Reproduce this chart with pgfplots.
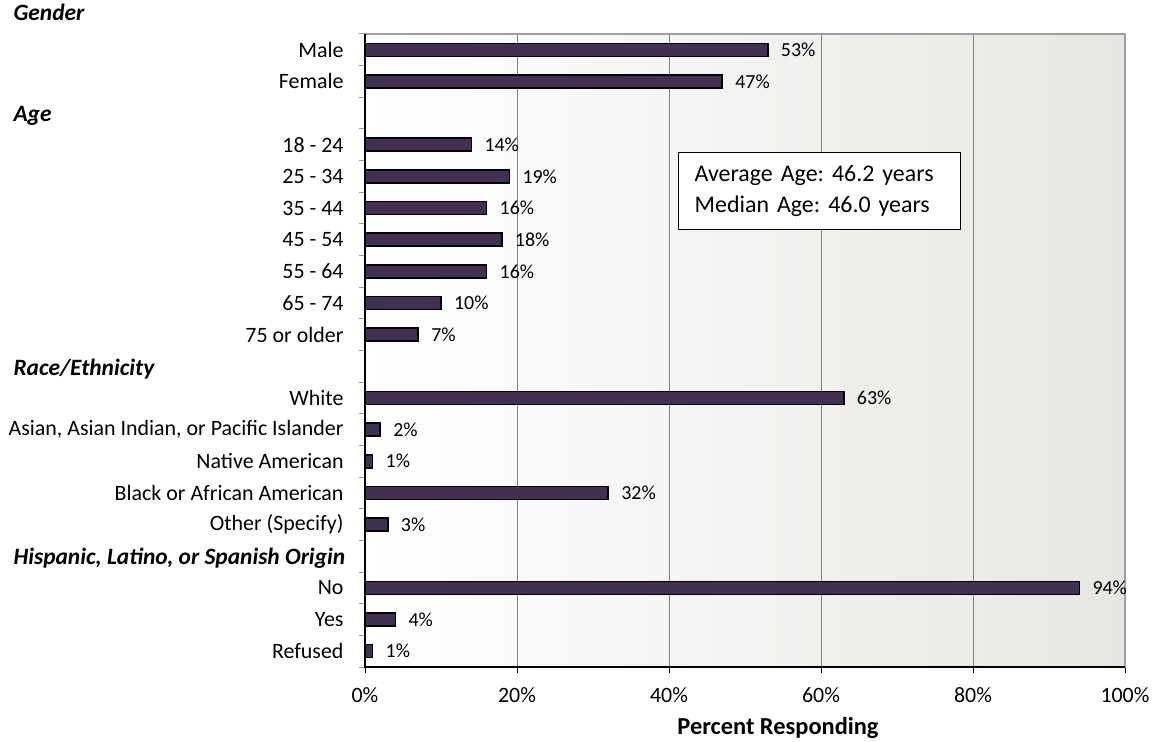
\documentclass[border=0pt]{standalone}
\usepackage{fontspec}
\setmainfont{Carlito}
\usepackage{pgfplots}
\pgfplotsset{compat=1.18}
\usetikzlibrary{calc}
\definecolor{barfill}{RGB}{64,49,82}
\definecolor{bgright}{RGB}{232,230,226}
\definecolor{gridgray}{RGB}{128,128,128}
\frenchspacing

\begin{document}
\begin{tikzpicture}
\begin{axis}[
  name=ax,
  scale only axis, width=760bp, height=633bp,
  xmin=0, xmax=100, ymin=-0.5, ymax=19.5,
  clip=false,
  xbar, bar width=13bp,
  axis background/.style={left color=white, right color=bgright},
  axis line style={draw=gray!75, line width=1.2bp},
  xtick={0,20,...,100},
  xticklabel={\pgfmathprintnumber{\tick}\%},
  xmajorgrids, grid style={gridgray, line width=0.8bp},
  ytick={0,...,19},
  yticklabels={Refused, Yes, No, {}, Other (Specify), Black or African American,
    Native American, {Asian, Asian Indian, or Pacific Islander}, White, {},
    75 or older, 65 - 74, 55 - 64, 45 - 54, 35 - 44, 25 - 34, 18 - 24, {},
    Female, Male},
  minor ytick={-0.5,0.5,...,19.5},
  tick align=outside, tick pos=left,
  major tick length=6bp, minor tick length=6bp,
  every major x tick/.style={black, line width=0.8bp},
  every major y tick/.style={draw=none},
  every minor y tick/.style={gray!80, line width=1bp},
  ticklabel style={font=\fontsize{22}{24}\selectfont},
  xticklabel style={yshift=-11bp},
  yticklabel style={xshift=-12bp},
  /pgf/number format/assume math mode=true,
  xlabel={Percent Responding},
  xlabel style={font=\fontsize{24.5}{26}\selectfont\bfseries, xshift=33bp, yshift=-8bp},
  nodes near coords={\pgfmathprintnumber{\pgfplotspointmeta}\%},
  every node near coord/.append style={font=\fontsize{20}{22}\selectfont, anchor=west, xshift=9bp},
]
\addplot[fill=barfill, draw=black, line width=1.6bp] coordinates {
  (53,19) (47,18)
  (14,16) (19,15) (16,14) (18,13) (16,12) (10,11) (7,10)
  (63,8) (2,7) (1,6) (32,5) (3,4)
  (94,2) (4,1) (1,0)
};
\draw[black, line width=1.6bp] (rel axis cs:0,1) -- (rel axis cs:0,0) -- (rel axis cs:1,0);
\node[anchor=west, font=\fontsize{23.5}{25}\selectfont\bfseries\itshape, yshift=6bp]
  at ([xshift=-355bp]axis cs:0,20) {Gender};
\node[anchor=west, font=\fontsize{23.5}{25}\selectfont\bfseries\itshape, yshift=-3bp]
  at ([xshift=-355bp]axis cs:0,17) {Age};
\node[anchor=west, font=\fontsize{23.5}{25}\selectfont\bfseries\itshape, yshift=-3bp]
  at ([xshift=-355bp]axis cs:0,9) {Race/Ethnicity};
\node[anchor=west, font=\fontsize{23.5}{25}\selectfont\bfseries\itshape, yshift=-2bp]
  at ([xshift=-355bp]axis cs:0,3) {Hispanic, Latino, or Spanish Origin};
\node[anchor=north west, draw=black, fill=white, line width=1.2bp,
  minimum width=282bp, minimum height=77bp, inner xsep=16bp,
  text width=250bp, align=left, font=\fontsize{24}{31}\selectfont]
  at (rel axis cs:0.412,0.8136) {Average Age: 46.2 years\\Median Age: 46.0 years};
\end{axis}
\pgfresetboundingbox
\path[use as bounding box] ($(ax.south west)+(-365bp,-75bp)$) rectangle ($(ax.north east)+(29bp,34bp)$);
\end{tikzpicture}
\end{document}
